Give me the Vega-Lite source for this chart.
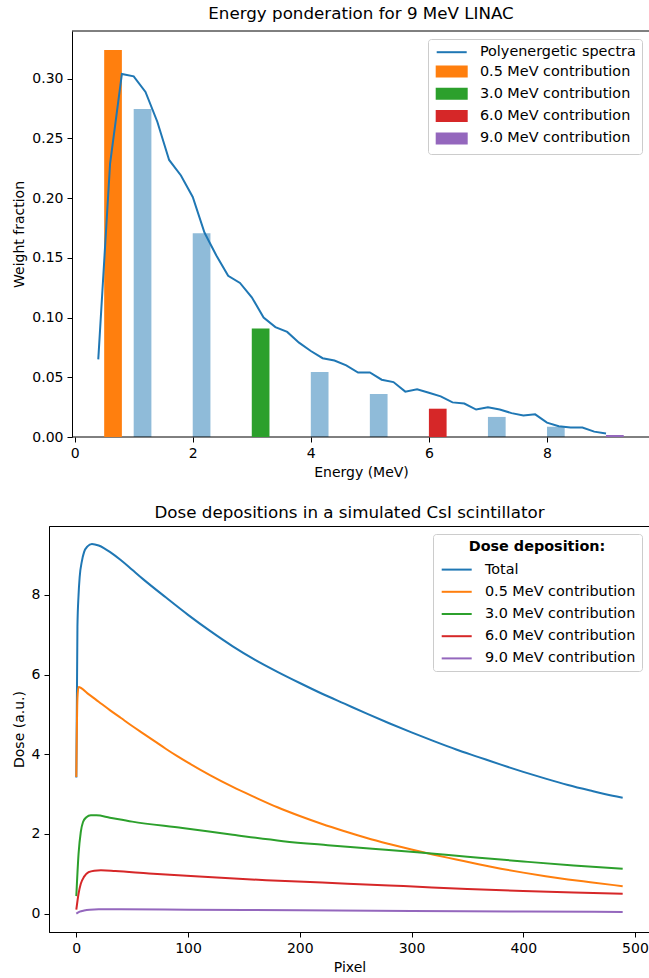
{
  "$schema": "https://vega.github.io/schema/vega-lite/v6.json",
  "padding": {"left": 11, "top": 5, "right": 0, "bottom": 0},
  "spacing": 25,
  "config": {
    "font": "DejaVu Sans",
    "view": {"stroke": "#000", "strokeWidth": 1},
    "axis": {"grid": false, "labelFont": "DejaVu Sans", "titleFont": "DejaVu Sans", "labelFontSize": 14, "titleFontSize": 14, "titleFontWeight": "normal", "labelColor": "#000", "titleColor": "#000", "domainColor": "#000", "tickColor": "#000", "tickSize": 5, "labelPadding": 4, "titlePadding": 5, "labelFlush": false},
    "title": {"font": "DejaVu Sans", "fontSize": 16.7, "fontWeight": "normal", "color": "#000", "offset": 8},
    "legend": {"labelFont": "DejaVu Sans", "labelFontSize": 14.4, "labelColor": "#000", "fillColor": "white", "strokeColor": "#cccccc", "cornerRadius": 3, "padding": 6, "orient": "top-right", "offset": 8, "symbolSize": 100, "symbolStrokeWidth": 2, "symbolOffset": 10.5, "labelOffset": 21}
  },
  "datasets": {
    "spectrum": [
      {"energy": 0.4, "weight": 0.065}, {"energy": 0.6, "weight": 0.229}, {"energy": 0.8, "weight": 0.304}, {"energy": 1.0, "weight": 0.302},
      {"energy": 1.2, "weight": 0.289}, {"energy": 1.4, "weight": 0.264}, {"energy": 1.6, "weight": 0.232}, {"energy": 1.8, "weight": 0.219},
      {"energy": 2.0, "weight": 0.201}, {"energy": 2.2, "weight": 0.171}, {"energy": 2.4, "weight": 0.152}, {"energy": 2.6, "weight": 0.135},
      {"energy": 2.8, "weight": 0.129}, {"energy": 3.0, "weight": 0.117}, {"energy": 3.2, "weight": 0.100}, {"energy": 3.4, "weight": 0.092},
      {"energy": 3.6, "weight": 0.088}, {"energy": 3.8, "weight": 0.079}, {"energy": 4.0, "weight": 0.072}, {"energy": 4.2, "weight": 0.066},
      {"energy": 4.4, "weight": 0.064}, {"energy": 4.6, "weight": 0.060}, {"energy": 4.8, "weight": 0.054}, {"energy": 5.0, "weight": 0.054},
      {"energy": 5.2, "weight": 0.048}, {"energy": 5.4, "weight": 0.046}, {"energy": 5.6, "weight": 0.038}, {"energy": 5.8, "weight": 0.040},
      {"energy": 6.0, "weight": 0.037}, {"energy": 6.2, "weight": 0.034}, {"energy": 6.4, "weight": 0.029}, {"energy": 6.6, "weight": 0.028},
      {"energy": 6.8, "weight": 0.023}, {"energy": 7.0, "weight": 0.025}, {"energy": 7.2, "weight": 0.023}, {"energy": 7.4, "weight": 0.020},
      {"energy": 7.6, "weight": 0.018}, {"energy": 7.8, "weight": 0.019}, {"energy": 8.0, "weight": 0.012}, {"energy": 8.2, "weight": 0.009},
      {"energy": 8.4, "weight": 0.008}, {"energy": 8.6, "weight": 0.008}, {"energy": 8.8, "weight": 0.0045}, {"energy": 9.0, "weight": 0.003}
    ],
    "bins": [
      {"energy": 1, "weight": 0.2747}, {"energy": 2, "weight": 0.1707}, {"energy": 4, "weight": 0.0545},
      {"energy": 5, "weight": 0.036}, {"energy": 7, "weight": 0.0168}, {"energy": 8, "weight": 0.0086}
    ],
    "contrib": [
      {"energy": 0.5, "weight": 0.324, "series": "0.5 MeV contribution"},
      {"energy": 3.0, "weight": 0.0908, "series": "3.0 MeV contribution"},
      {"energy": 6.0, "weight": 0.0237, "series": "6.0 MeV contribution"},
      {"energy": 9.0, "weight": 0.0017, "series": "9.0 MeV contribution"}
    ],
    "dose": [
      {"pixel": 0, "dose": 3.42, "series": "Total"}, {"pixel": 1, "dose": 7.2, "series": "Total"}, {"pixel": 2, "dose": 8.0, "series": "Total"},
      {"pixel": 3, "dose": 8.45, "series": "Total"}, {"pixel": 5, "dose": 8.85, "series": "Total"}, {"pixel": 7, "dose": 9.08, "series": "Total"},
      {"pixel": 10, "dose": 9.22, "series": "Total"}, {"pixel": 14, "dose": 9.28, "series": "Total"}, {"pixel": 20, "dose": 9.24, "series": "Total"},
      {"pixel": 25, "dose": 9.17, "series": "Total"}, {"pixel": 30, "dose": 9.08, "series": "Total"}, {"pixel": 40, "dose": 8.87, "series": "Total"},
      {"pixel": 50, "dose": 8.63, "series": "Total"}, {"pixel": 60, "dose": 8.39, "series": "Total"}, {"pixel": 80, "dose": 7.94, "series": "Total"},
      {"pixel": 100, "dose": 7.5, "series": "Total"}, {"pixel": 120, "dose": 7.09, "series": "Total"}, {"pixel": 140, "dose": 6.71, "series": "Total"},
      {"pixel": 160, "dose": 6.37, "series": "Total"}, {"pixel": 180, "dose": 6.07, "series": "Total"}, {"pixel": 200, "dose": 5.79, "series": "Total"},
      {"pixel": 220, "dose": 5.52, "series": "Total"}, {"pixel": 240, "dose": 5.27, "series": "Total"}, {"pixel": 260, "dose": 5.02, "series": "Total"},
      {"pixel": 280, "dose": 4.78, "series": "Total"}, {"pixel": 300, "dose": 4.55, "series": "Total"}, {"pixel": 320, "dose": 4.33, "series": "Total"},
      {"pixel": 340, "dose": 4.12, "series": "Total"}, {"pixel": 360, "dose": 3.93, "series": "Total"}, {"pixel": 380, "dose": 3.74, "series": "Total"},
      {"pixel": 400, "dose": 3.56, "series": "Total"}, {"pixel": 420, "dose": 3.39, "series": "Total"}, {"pixel": 440, "dose": 3.23, "series": "Total"},
      {"pixel": 460, "dose": 3.09, "series": "Total"}, {"pixel": 480, "dose": 2.96, "series": "Total"}, {"pixel": 489, "dose": 2.91, "series": "Total"},

      {"pixel": 0, "dose": 3.43, "series": "0.5 MeV contribution"}, {"pixel": 1, "dose": 5.4, "series": "0.5 MeV contribution"},
      {"pixel": 2, "dose": 5.69, "series": "0.5 MeV contribution"}, {"pixel": 10, "dose": 5.53, "series": "0.5 MeV contribution"},
      {"pixel": 20, "dose": 5.32, "series": "0.5 MeV contribution"}, {"pixel": 30, "dose": 5.11, "series": "0.5 MeV contribution"},
      {"pixel": 40, "dose": 4.91, "series": "0.5 MeV contribution"}, {"pixel": 50, "dose": 4.71, "series": "0.5 MeV contribution"},
      {"pixel": 60, "dose": 4.52, "series": "0.5 MeV contribution"}, {"pixel": 70, "dose": 4.33, "series": "0.5 MeV contribution"},
      {"pixel": 80, "dose": 4.14, "series": "0.5 MeV contribution"}, {"pixel": 90, "dose": 3.96, "series": "0.5 MeV contribution"},
      {"pixel": 100, "dose": 3.79, "series": "0.5 MeV contribution"}, {"pixel": 120, "dose": 3.47, "series": "0.5 MeV contribution"},
      {"pixel": 140, "dose": 3.18, "series": "0.5 MeV contribution"}, {"pixel": 160, "dose": 2.92, "series": "0.5 MeV contribution"},
      {"pixel": 180, "dose": 2.67, "series": "0.5 MeV contribution"}, {"pixel": 200, "dose": 2.45, "series": "0.5 MeV contribution"},
      {"pixel": 220, "dose": 2.25, "series": "0.5 MeV contribution"}, {"pixel": 240, "dose": 2.07, "series": "0.5 MeV contribution"},
      {"pixel": 260, "dose": 1.9, "series": "0.5 MeV contribution"}, {"pixel": 280, "dose": 1.75, "series": "0.5 MeV contribution"},
      {"pixel": 300, "dose": 1.61, "series": "0.5 MeV contribution"}, {"pixel": 320, "dose": 1.48, "series": "0.5 MeV contribution"},
      {"pixel": 340, "dose": 1.36, "series": "0.5 MeV contribution"}, {"pixel": 360, "dose": 1.24, "series": "0.5 MeV contribution"},
      {"pixel": 380, "dose": 1.13, "series": "0.5 MeV contribution"}, {"pixel": 400, "dose": 1.03, "series": "0.5 MeV contribution"},
      {"pixel": 420, "dose": 0.94, "series": "0.5 MeV contribution"}, {"pixel": 440, "dose": 0.86, "series": "0.5 MeV contribution"},
      {"pixel": 460, "dose": 0.79, "series": "0.5 MeV contribution"}, {"pixel": 489, "dose": 0.69, "series": "0.5 MeV contribution"},

      {"pixel": 0, "dose": 0.44, "series": "3.0 MeV contribution"}, {"pixel": 2, "dose": 1.5, "series": "3.0 MeV contribution"},
      {"pixel": 4, "dose": 2.05, "series": "3.0 MeV contribution"}, {"pixel": 6, "dose": 2.3, "series": "3.0 MeV contribution"},
      {"pixel": 9, "dose": 2.42, "series": "3.0 MeV contribution"}, {"pixel": 13, "dose": 2.47, "series": "3.0 MeV contribution"},
      {"pixel": 18, "dose": 2.47, "series": "3.0 MeV contribution"}, {"pixel": 30, "dose": 2.41, "series": "3.0 MeV contribution"},
      {"pixel": 50, "dose": 2.31, "series": "3.0 MeV contribution"}, {"pixel": 95, "dose": 2.15, "series": "3.0 MeV contribution"},
      {"pixel": 140, "dose": 1.98, "series": "3.0 MeV contribution"}, {"pixel": 185, "dose": 1.82, "series": "3.0 MeV contribution"},
      {"pixel": 225, "dose": 1.72, "series": "3.0 MeV contribution"}, {"pixel": 265, "dose": 1.63, "series": "3.0 MeV contribution"},
      {"pixel": 305, "dose": 1.54, "series": "3.0 MeV contribution"}, {"pixel": 350, "dose": 1.43, "series": "3.0 MeV contribution"},
      {"pixel": 400, "dose": 1.31, "series": "3.0 MeV contribution"}, {"pixel": 445, "dose": 1.21, "series": "3.0 MeV contribution"},
      {"pixel": 489, "dose": 1.13, "series": "3.0 MeV contribution"},

      {"pixel": 0, "dose": 0.1, "series": "6.0 MeV contribution"}, {"pixel": 2, "dose": 0.5, "series": "6.0 MeV contribution"},
      {"pixel": 4, "dose": 0.75, "series": "6.0 MeV contribution"}, {"pixel": 7, "dose": 0.93, "series": "6.0 MeV contribution"},
      {"pixel": 11, "dose": 1.04, "series": "6.0 MeV contribution"}, {"pixel": 16, "dose": 1.08, "series": "6.0 MeV contribution"},
      {"pixel": 22, "dose": 1.09, "series": "6.0 MeV contribution"}, {"pixel": 35, "dose": 1.07, "series": "6.0 MeV contribution"},
      {"pixel": 65, "dose": 1.01, "series": "6.0 MeV contribution"}, {"pixel": 110, "dose": 0.93, "series": "6.0 MeV contribution"},
      {"pixel": 170, "dose": 0.84, "series": "6.0 MeV contribution"}, {"pixel": 220, "dose": 0.78, "series": "6.0 MeV contribution"},
      {"pixel": 280, "dose": 0.71, "series": "6.0 MeV contribution"}, {"pixel": 310, "dose": 0.67, "series": "6.0 MeV contribution"},
      {"pixel": 350, "dose": 0.62, "series": "6.0 MeV contribution"}, {"pixel": 400, "dose": 0.57, "series": "6.0 MeV contribution"},
      {"pixel": 445, "dose": 0.53, "series": "6.0 MeV contribution"}, {"pixel": 489, "dose": 0.5, "series": "6.0 MeV contribution"},

      {"pixel": 0, "dose": 0.0, "series": "9.0 MeV contribution"}, {"pixel": 3, "dose": 0.05, "series": "9.0 MeV contribution"},
      {"pixel": 7, "dose": 0.08, "series": "9.0 MeV contribution"}, {"pixel": 12, "dose": 0.1, "series": "9.0 MeV contribution"},
      {"pixel": 20, "dose": 0.11, "series": "9.0 MeV contribution"}, {"pixel": 40, "dose": 0.11, "series": "9.0 MeV contribution"},
      {"pixel": 100, "dose": 0.1, "series": "9.0 MeV contribution"}, {"pixel": 200, "dose": 0.085, "series": "9.0 MeV contribution"},
      {"pixel": 300, "dose": 0.07, "series": "9.0 MeV contribution"}, {"pixel": 400, "dose": 0.055, "series": "9.0 MeV contribution"},
      {"pixel": 489, "dose": 0.045, "series": "9.0 MeV contribution"}
    ],
    "frame": [
      {"e0": -0.045, "e1": 9.745, "w": 0.34},
      {"e0": -0.045, "e1": 9.745, "w": 0}
    ]
  },
  "vconcat": [
    {
      "width": 601,
      "height": 406,
      "view": {"stroke": null},
      "title": {"text": "Energy ponderation for 9 MeV LINAC", "dx": 11.5},
      "layer": [
        {
          "data": {"name": "bins"},
          "mark": {"type": "bar", "orient": "vertical", "width": 17.7, "xOffset": 8.85, "color": "#1f77b4", "opacity": 0.5},
          "encoding": {
            "x": {"field": "energy", "type": "quantitative", "scale": {"domain": [-0.4346, 9.7449], "nice": false, "zero": false, "padding": 0}, "axis": {"values": [0, 2, 4, 6, 8], "format": "d", "title": "Energy (MeV)", "domain": false, "titleX": 312}},
            "y": {"field": "weight", "type": "quantitative", "scale": {"domain": [0, 0.34], "nice": false, "padding": 0}, "axis": {"values": [0, 0.05, 0.1, 0.15, 0.2, 0.25, 0.3], "format": ".2f", "title": "Weight fraction", "offset": -23}}
          }
        },
        {
          "data": {"name": "frame"},
          "mark": {"type": "rule", "color": "#000", "strokeWidth": 1},
          "encoding": {
            "x": {"field": "e0", "type": "quantitative"},
            "x2": {"field": "e1"},
            "y": {"field": "w", "type": "quantitative"}
          }
        },
        {
          "data": {"name": "contrib"},
          "mark": {"type": "bar", "orient": "vertical", "width": 17.7, "xOffset": 8.85},
          "encoding": {
            "x": {"field": "energy", "type": "quantitative"},
            "y": {"field": "weight", "type": "quantitative"},
            "color": {"field": "series", "type": "nominal"}
          }
        },
        {
          "data": {"name": "spectrum"},
          "transform": [{"calculate": "'Polyenergetic spectra'", "as": "series"}],
          "mark": {"type": "line", "strokeWidth": 2},
          "encoding": {
            "x": {"field": "energy", "type": "quantitative"},
            "y": {"field": "weight", "type": "quantitative"},
            "color": {
              "field": "series", "type": "nominal",
              "scale": {"domain": ["Polyenergetic spectra", "0.5 MeV contribution", "3.0 MeV contribution", "6.0 MeV contribution", "9.0 MeV contribution"], "range": ["#1f77b4", "#ff7f0e", "#2ca02c", "#d62728", "#9467bd"]},
              "legend": {
                "title": null,
                "rowPadding": 3.3,
                "encode": {
                  "symbols": {"update": {
                    "shape": {"signal": "datum.index == 0 ? 'M-3,0H3' : 'M-3,-1H3V1H-3Z'"},
                    "fill": {"signal": "datum.index == 0 ? 'transparent' : ['#1f77b4','#ff7f0e','#2ca02c','#d62728','#9467bd'][datum.index]"},
                    "stroke": {"signal": "datum.index == 0 ? '#1f77b4' : 'transparent'"},
                    "strokeWidth": {"value": 2},
                    "opacity": {"value": 1}
                  }}
                }
              }
            }
          }
        }
      ]
    },
    {
      "width": 601,
      "height": 406,
      "title": {"text": "Dose depositions in a simulated CsI scintillator", "offset": 4},
      "data": {"name": "dose"},
      "mark": {"type": "line", "strokeWidth": 2, "interpolate": "monotone"},
      "encoding": {
        "x": {"field": "pixel", "type": "quantitative", "scale": {"domain": [-24.45, 513.45], "nice": false, "zero": false}, "axis": {"values": [0, 100, 200, 300, 400, 500], "title": "Pixel"}},
        "y": {"field": "dose", "type": "quantitative", "scale": {"domain": [-0.46, 9.73], "nice": false, "zero": false}, "axis": {"values": [0, 2, 4, 6, 8], "title": "Dose (a.u.)"}},
        "color": {
          "field": "series", "type": "nominal",
          "scale": {"domain": ["Total", "0.5 MeV contribution", "3.0 MeV contribution", "6.0 MeV contribution", "9.0 MeV contribution"], "range": ["#1f77b4", "#ff7f0e", "#2ca02c", "#d62728", "#9467bd"]},
          "legend": {
            "title": "Dose deposition:",
            "titleFont": "DejaVu Sans",
            "titleFontSize": 14.4,
            "titleFontWeight": "bold",
            "titleColor": "#000",
            "titleAnchor": "middle",
            "titlePadding": 8,
            "rowPadding": 7.2,
            "encode": {
              "symbols": {"update": {
                "shape": {"value": "M-3,0H3"},
                "strokeWidth": {"value": 2},
                "opacity": {"value": 1}
              }}
            }
          }
        }
      }
    }
  ],
  "resolve": {"scale": {"color": "independent"}, "legend": {"color": "independent"}}
}
